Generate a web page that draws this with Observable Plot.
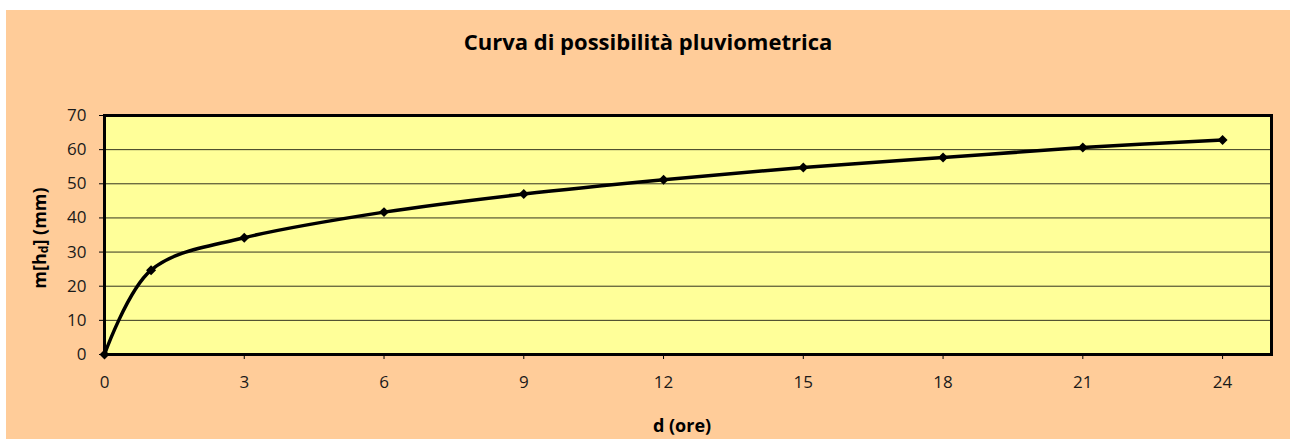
<!DOCTYPE html>
<html><head><meta charset="utf-8">
<script src="https://cdn.jsdelivr.net/npm/d3@7"></script>
<script src="https://cdn.jsdelivr.net/npm/@observablehq/plot@0.6"></script>
<style>
body{margin:0;background:#fff;font-family:"Open Sans",sans-serif}
#chart{position:absolute;left:6px;top:10px;width:1284px;height:429px;background:#FFCC99;overflow:hidden}
#title{height:62px;line-height:62px;text-align:center;font-weight:bold;font-size:22px;color:#000;font-family:"Open Sans",sans-serif}
svg{display:block}
</style></head>
<body><div id="chart"><div id="title">Curva di possibilità pluviometrica</div></div>
<script>
const durations = [0, 1, 3, 6, 9, 12, 15, 18, 21, 24];
const heights = [0, 24.7, 34.2, 41.7, 47.0, 51.2, 54.8, 57.7, 60.6, 62.8];
const xTicks = [0, 3, 6, 9, 12, 15, 18, 21, 24];
const yTicks = [0, 10, 20, 30, 40, 50, 60, 70];
const gridValues = [10, 20, 30, 40, 50, 60];
const xLabel = "d (ore)";
const yLabel = "m[hd] (mm)";

const data = durations.map((d, i) => ({d, h: heights[i]}));

const chart = Plot.plot({
  width: 1284,
  height: 367,
  marginTop: 43,
  marginBottom: 85,
  marginLeft: 98,
  marginRight: 19,
  style: {background: "transparent", fontFamily: "'Open Sans', sans-serif", fontSize: "17px", color: "#1a1a1a"},
  x: {domain: [0, 25.05]},
  y: {domain: [0, 70]},
  marks: [
    Plot.frame({fill: "#FFFF99"}),
    Plot.ruleY(gridValues, {stroke: "#000", strokeOpacity: 0.8, strokeWidth: 1}),
    Plot.axisY(yTicks, {tickSize: 5, tickPadding: 13, fontSize: 17, label: null, stroke: "#000"}),
    Plot.axisX(xTicks, {tickSize: 5, tickPadding: 16, fontSize: 17, label: null, stroke: "#000"}),
    Plot.frame({stroke: "#000", strokeWidth: 3}),
    Plot.line(data, {x: "d", y: "h", curve: "cardinal", stroke: "#000", strokeWidth: 3.5}),
    Plot.dot(data, {x: "d", y: "h", symbol: "diamond2", r: 4.5, fill: "#000", stroke: "none"}),
    Plot.text([xLabel], {frameAnchor: "bottom", dy: 77, dx: -6, fontWeight: "bold", fontSize: 18, fill: "#000"}),
    Plot.text([yLabel], {frameAnchor: "left", textAnchor: "middle", rotate: -90, dx: -64, dy: 3, fontWeight: "bold", fontSize: 18, fill: "#000"})
  ]
});
document.getElementById("chart").appendChild(chart);

// subscript "d" in the y label
d3.select(chart).selectAll("text").each(function() {
  if (this.textContent === yLabel) {
    const t = d3.select(this);
    t.text(null);
    t.append("tspan").text("m[h");
    t.append("tspan").text("d").attr("baseline-shift", "-20%").attr("font-size", "12px");
    t.append("tspan").text("] (mm)");
  }
});
</script>
</body></html>
